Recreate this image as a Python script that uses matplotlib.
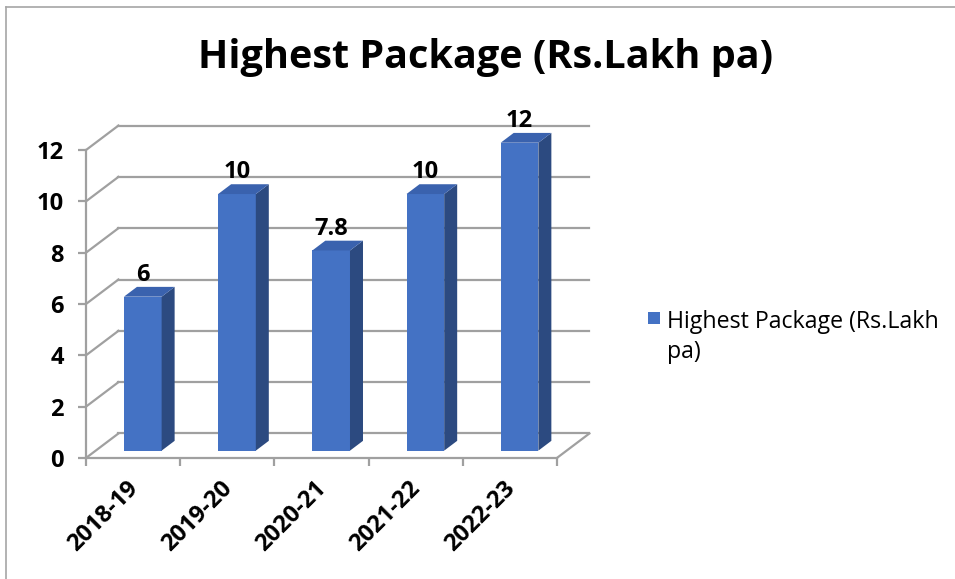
import matplotlib.pyplot as plt
from matplotlib.patches import Polygon, Rectangle
from matplotlib.lines import Line2D
from matplotlib.transforms import ScaledTranslation

plt.rcParams['font.family'] = ['Open Sans', 'DejaVu Sans']

# data
anos = ['2018-19', '2019-20', '2020-21', '2021-22', '2022-23']
pacote = [6, 10, 7.8, 10, 12]
titulo = 'Highest Package (Rs.Lakh pa)'
legenda = 'Highest Package (Rs.Lakh\npa)'

cor_frente = '#4472C4'
cor_lado = '#2C4A80'
cor_topo = '#3A62AE'
cor_grade = '#A0A0A0'

# vetor de profundidade do "3D" (em unidades de dados)
px, py = 0.345, 0.955
f0, f1 = 0.30, 0.70   # posicao da barra na profundidade
larg = 0.40

fig = plt.figure(figsize=(9.55, 5.79), dpi=100)
ax = fig.add_axes([0.090, 0.209, 0.537, 0.585])
n = len(anos)
x0, x1 = -0.5, n - 0.5
ax.set_xlim(x0, x1 + px + 0.1)
ax.set_ylim(0, 13.2)
for s in ax.spines.values():
    s.set_visible(False)

# paredes e grade
for y in range(0, 13, 2):
    ax.plot([x0 + px, x1 + px], [y + py, y + py], color=cor_grade, lw=1.6, zorder=1, clip_on=False)
    ax.plot([x0, x0 + px], [y, y + py], color=cor_grade, lw=1.6, zorder=1, clip_on=False)
ax.plot([x0, x0], [0, 12], color=cor_grade, lw=1.6, zorder=1, clip_on=False)
ax.plot([x0, x1], [0, 0], color=cor_grade, lw=1.6, zorder=1, clip_on=False)
ax.plot([x1, x1 + px], [0, py], color=cor_grade, lw=1.6, zorder=1, clip_on=False)

# barras
xs = [i + f0 * px for i in range(n)]
base = f0 * py
dx, dy = (f1 - f0) * px, (f1 - f0) * py
ax.bar(xs, pacote, width=larg, bottom=base, color=cor_frente, zorder=3)
for xc, v in zip(xs, pacote):
    xl, xr = xc - larg / 2, xc + larg / 2
    t = base + v
    ax.add_patch(Polygon([(xr, base), (xr + dx, base + dy), (xr + dx, t + dy), (xr, t)],
                         closed=True, facecolor=cor_lado, edgecolor='none', zorder=3))
    ax.add_patch(Polygon([(xl, t), (xr, t), (xr + dx, t + dy), (xl + dx, t + dy)],
                         closed=True, facecolor=cor_topo, edgecolor='none', zorder=3))
    ax.annotate(f'{v:g}', (xc, t + dy), xytext=(0, 0), textcoords='offset points',
                ha='center', va='bottom', fontsize=17, fontweight='bold', zorder=4)

# eixos
ax.set_yticks(range(0, 13, 2))
ax.set_yticklabels([str(v) for v in range(0, 13, 2)], fontsize=17, fontweight='bold')
ax.tick_params(axis='y', length=6, width=1.6, color=cor_grade, pad=10)
ax.set_xticks([x0 + i for i in range(n + 1)])
ax.set_xticklabels([])
ax.tick_params(axis='x', which='major', length=6, width=1.6, color=cor_grade)
ax.set_xticks(range(n), minor=True)
ax.set_xticklabels(anos, minor=True, rotation=45, ha='right', va='top',
                   rotation_mode='anchor', fontsize=17, fontweight='bold')
ax.tick_params(axis='x', which='minor', length=0, pad=13)
desloc = ScaledTranslation(-5 / 72, 0, fig.dpi_scale_trans)
for lab in ax.get_xticklabels(minor=True):
    lab.set_transform(lab.get_transform() + desloc)

fig.suptitle(titulo, x=0.508, y=0.935, fontsize=28.5, fontweight='bold')

# legenda
fig.patches.append(Rectangle((648 / 955, 255 / 579), 12 / 955, 12 / 579,
                             transform=fig.transFigure, facecolor=cor_frente, edgecolor='none'))
fig.text(667 / 955, 0.418, legenda, fontsize=16.7, va='center', ha='left', linespacing=1.3)

# borda (so topo e esquerda)
fig.lines.append(Line2D([5.5 / 955, 1], [1 - 7 / 579, 1 - 7 / 579], transform=fig.transFigure,
                        color='#A6A6A6', lw=1.2))
fig.lines.append(Line2D([5.5 / 955, 5.5 / 955], [0, 1 - 7 / 579], transform=fig.transFigure,
                        color='#A6A6A6', lw=1.2))

fig.savefig('out.png', dpi=100)
